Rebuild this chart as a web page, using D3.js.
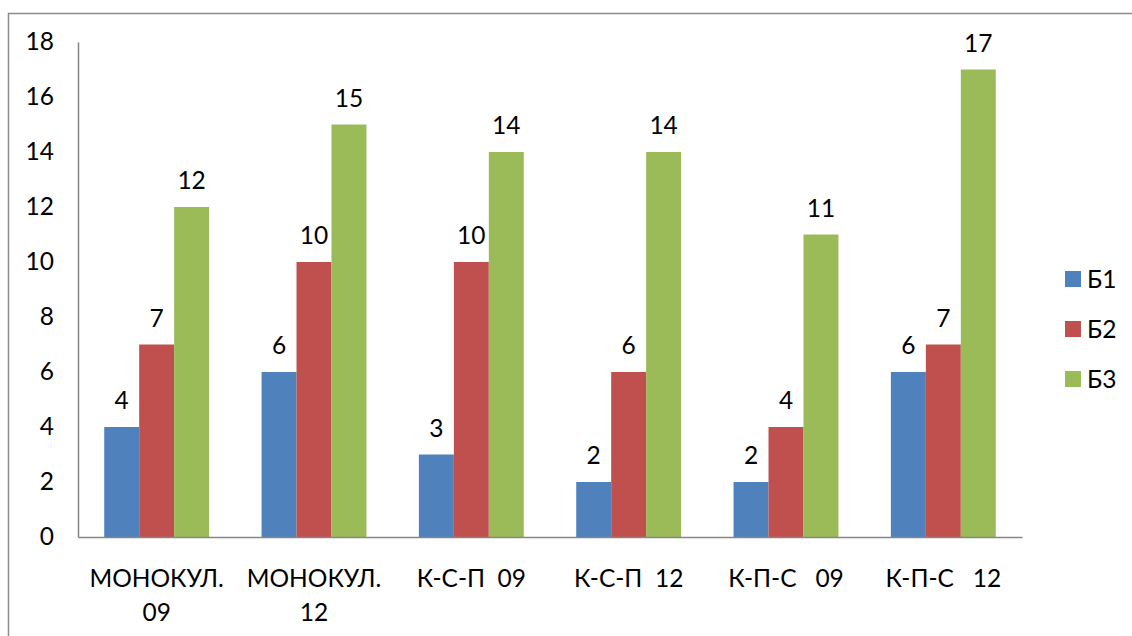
<!DOCTYPE html>
<html><head><meta charset="utf-8">
<script src="https://cdn.jsdelivr.net/npm/d3@7"></script>
<style>
html,body{margin:0;padding:0;background:#fff;}
text{font-family:Lato,"Open Sans",sans-serif;fill:#000;}
</style></head>
<body><svg id="c" width="1132" height="636"></svg>
<script>
const categories = [["МОНОКУЛ.","09"],["МОНОКУЛ.","12"],["К-С-П  09"],["К-С-П  12"],["К-П-С   09"],["К-П-С   12"]];
const seriesNames = ["Б1","Б2","Б3"];
const b1 = [4,6,3,2,2,6];
const b2 = [7,10,10,6,4,7];
const b3 = [12,15,14,14,11,17];
const colors = ["#4F81BD","#C0504D","#9BBB59"];
const yTicks = [0,2,4,6,8,10,12,14,16,18];

(function(){
const series = [b1,b2,b3];
const svg = d3.select("#c");
svg.append("rect").attr("x",8.5).attr("y",13.5).attr("width",1140).attr("height",640)
  .attr("fill","none").attr("stroke","#8c8c8c").attr("stroke-width",1.5);

const pl=78, pr=1022, pt=42, pb=537;
const x = d3.scaleBand().domain(d3.range(categories.length)).range([pl,pr]).paddingInner(0).paddingOuter(0);
const xs = d3.scaleBand().domain(d3.range(3)).range([0,x.bandwidth()]).paddingInner(0).paddingOuter(0.75);
const y = d3.scaleLinear().domain([0,18]).range([pb,pt]);
const fs = 24.5;

const ya = svg.append("g").attr("transform",`translate(${pl},0)`)
  .call(d3.axisLeft(y).tickValues(yTicks).tickSize(0).tickPadding(24));
ya.select(".domain").attr("stroke","#868686").attr("stroke-width",1.5);
ya.selectAll("text").style("font-size",fs+"px").style("font-family","Lato").attr("fill","#000");

series.forEach((s,si)=>{
  svg.append("g").selectAll("rect").data(s).join("rect")
    .attr("x",(d,i)=>x(i)+xs(si)).attr("width",xs.bandwidth())
    .attr("y",d=>y(d)).attr("height",d=>pb-y(d)).attr("fill",colors[si]);
  svg.append("g").selectAll("text").data(s).join("text")
    .attr("x",(d,i)=>x(i)+xs(si)+xs.bandwidth()/2).attr("y",d=>y(d)-18)
    .attr("text-anchor","middle").style("font-size",fs+"px").text(d=>d);
});

const xa = svg.append("g").attr("transform",`translate(0,${pb})`)
  .call(d3.axisBottom(x).tickSize(0).tickFormat(""));
xa.select(".domain").attr("stroke","#868686").attr("stroke-width",1.5);
const cl = svg.append("g").selectAll("text").data(categories).join("text")
  .attr("x",(d,i)=>x(i)+x.bandwidth()/2).attr("y",587)
  .attr("text-anchor","middle").attr("xml:space","preserve").style("white-space","pre")
  .style("font-size",fs+"px");
cl.each(function(d,i){
  const t=d3.select(this);
  d.forEach((line,li)=>{
    t.append("tspan").attr("x",x(i)+x.bandwidth()/2).attr("dy",li===0?0:34).text(line);
  });
});

const lg = svg.append("g").selectAll("g").data(seriesNames).join("g")
  .attr("transform",(d,i)=>`translate(1065,${271+i*50})`);
lg.append("rect").attr("width",16).attr("height",16).attr("fill",(d,i)=>colors[i]);
lg.append("text").attr("x",22).attr("y",17).style("font-size",fs+"px").text(d=>d);
})();
</script></body></html>
